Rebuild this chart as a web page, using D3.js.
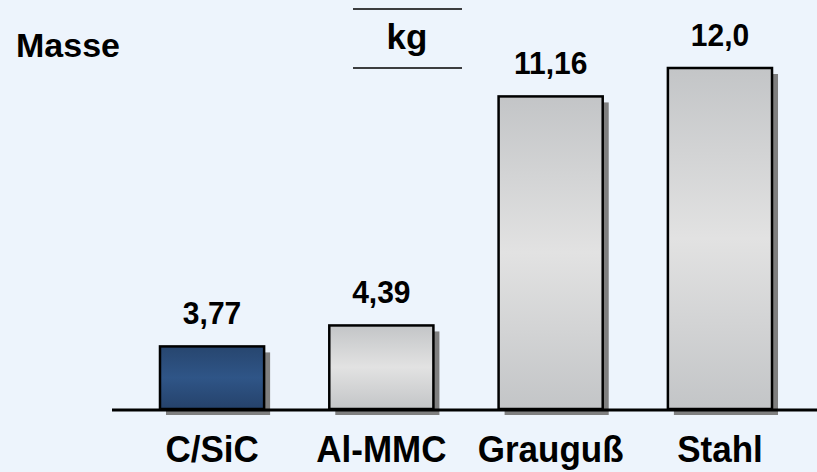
<!DOCTYPE html>
<html>
<head>
<meta charset="utf-8">
<script src="https://cdn.jsdelivr.net/npm/d3@7/dist/d3.min.js"></script>
<style>
  html, body { margin: 0; padding: 0; background: #EDF4FC; }
  svg { display: block; }
  text { font-family: "Liberation Sans", Arial, sans-serif; font-weight: bold; fill: #000; }
</style>
</head>
<body>
<svg id="chart" width="817" height="472"></svg>
<script>
const categories = ["C/SiC", "Al-MMC", "Grauguß", "Stahl"];
const values = [3.77, 4.39, 11.16, 12.0];
const valueLabels = ["3,77", "4,39", "11,16", "12,0"];
const highlight = ["C/SiC"];
const yTitle = "Masse";
const unit = "kg";

const W = 817, H = 472;
const svg = d3.select("#chart");
const baseline = 409;

const x = d3.scaleBand().domain(categories).range([127.4, 804.6])
  .paddingInner(0.385).paddingOuter(0.1925);
const y = d3.scaleLinear().domain([1.92, 12]).range([baseline, 68]);

const defs = svg.append("defs");
const gGray = defs.append("linearGradient").attr("id", "gGray").attr("x1", 0).attr("y1", 0).attr("x2", 0).attr("y2", 1);
[[0, "#c3c5c7"], [0.5, "#e2e2e2"], [1, "#c3c5c7"]].forEach(([o, c]) => gGray.append("stop").attr("offset", o).attr("stop-color", c));
const gBlue = defs.append("linearGradient").attr("id", "gBlue").attr("x1", 0).attr("y1", 0).attr("x2", 0).attr("y2", 1);
[[0, "#27466f"], [0.5, "#2f5587"], [1, "#25426b"]].forEach(([o, c]) => gBlue.append("stop").attr("offset", o).attr("stop-color", c));

const data = categories.map((c, i) => ({ c, v: values[i], label: valueLabels[i] }));

// shadows
svg.append("g").selectAll("rect").data(data).join("rect")
  .attr("x", d => x(d.c) + 6)
  .attr("y", d => y(d.v) + 6)
  .attr("width", x.bandwidth())
  .attr("height", d => baseline - y(d.v))
  .attr("fill", "#7f7f7f");

// bars
svg.append("g").selectAll("rect").data(data).join("rect")
  .attr("x", d => x(d.c))
  .attr("y", d => y(d.v))
  .attr("width", x.bandwidth())
  .attr("height", d => baseline - y(d.v))
  .attr("fill", d => highlight.includes(d.c) ? "url(#gBlue)" : "url(#gGray)")
  .attr("stroke", "#000")
  .attr("stroke-width", 2.5);

// axis line
svg.append("line").attr("x1", 112).attr("x2", W).attr("y1", baseline + 1).attr("y2", baseline + 1)
  .attr("stroke", "#000").attr("stroke-width", 3);

// value labels
svg.append("g").selectAll("text").data(data).join("text")
  .attr("transform", d => `translate(${x(d.c) + x.bandwidth() / 2},${y(d.v) - 22}) scale(1,1.04)`)
  .attr("text-anchor", "middle")
  .attr("font-size", 30)
  .text(d => d.label);

// category labels
svg.append("g").selectAll("text").data(data).join("text")
  .attr("transform", d => `translate(${x(d.c) + x.bandwidth() / 2},462) scale(1,1.08)`)
  .attr("text-anchor", "middle")
  .attr("font-size", 35)
  .text(d => d.c);

// title & unit
svg.append("text").attr("x", 16).attr("y", 57).attr("font-size", 34).text(yTitle);
svg.append("text").attr("x", 407).attr("y", 49).attr("text-anchor", "middle").attr("font-size", 35).text(unit);
[9, 68].forEach(yy => svg.append("line").attr("x1", 353).attr("x2", 462).attr("y1", yy).attr("y2", yy)
  .attr("stroke", "#000").attr("stroke-width", 1.5));
</script>
</body>
</html>
